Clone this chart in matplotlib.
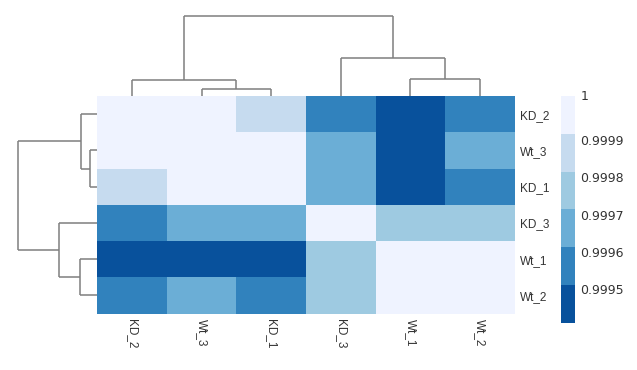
import matplotlib.pyplot as plt
import numpy as np
from matplotlib.colors import BoundaryNorm, ListedColormap

plt.rcParams["font.family"] = ["Liberation Sans", "DejaVu Sans"]

# samples, in clustered order (rows and columns use the same order)
samples = ["KD_2", "Wt_3", "KD_1", "KD_3", "Wt_1", "Wt_2"]

# correlation values (binned colours)
corr = np.array([
    [1.00000, 0.99992, 0.99986, 0.99957, 0.99943, 0.99958],
    [0.99992, 1.00000, 0.99991, 0.99967, 0.99946, 0.99966],
    [0.99986, 0.99991, 1.00000, 0.99965, 0.99944, 0.99959],
    [0.99957, 0.99967, 0.99965, 1.00000, 0.99975, 0.99976],
    [0.99943, 0.99946, 0.99944, 0.99975, 1.00000, 0.99993],
    [0.99958, 0.99966, 0.99959, 0.99976, 0.99993, 1.00000],
])

# linkage: (left node, right node, height); leaves 0..5, new nodes 6..10
linkage = [
    (1, 2, 7.0),
    (4, 5, 17.5),
    (0, 6, 16.0),
    (3, 7, 38.3),
    (8, 9, 80.0),
]

legend_breaks = [0.9995, 0.9996, 0.9997, 0.9998, 0.9999, 1.0]
legend_labels = ["0.9995", "0.9996", "0.9997", "0.9998", "0.9999", "1"]
colors = ["#08519c", "#3182bd", "#6baed6", "#9ecae1", "#c6dbef", "#eff3ff"]

W, H = 637, 370
fig = plt.figure(figsize=(W / 100, H / 100), dpi=100)


def px_axes(x0, y0, x1, y1):
    return fig.add_axes([x0 / W, 1 - y1 / H, (x1 - x0) / W, (y1 - y0) / H])


hm_left, hm_right, hm_top, hm_bottom = 97, 515, 96, 313.5
n = len(samples)
text_color = "#333333"

# heatmap
ax = px_axes(hm_left, hm_top, hm_right, hm_bottom)
cmap = ListedColormap(colors)
bounds = [0.999] + legend_breaks[:-1] + [1.001]
norm = BoundaryNorm(bounds, cmap.N)
ax.pcolormesh(np.arange(n + 1), np.arange(n + 1), corr, cmap=cmap, norm=norm)
ax.set_xlim(0, n)
ax.set_ylim(n, 0)
for s in ax.spines.values():
    s.set_visible(False)
ax.tick_params(length=0)
ax.set_xticks(np.arange(n) + 0.5)
ax.set_xticklabels(samples, rotation=-90, fontsize=8.5, color=text_color, va="top")
ax.set_yticks(np.arange(n) + 0.5)
ax.set_yticklabels(samples, fontsize=8.5, color=text_color)
ax.yaxis.tick_right()
ax.tick_params(axis="x", pad=4)
ax.tick_params(axis="y", pad=3.5)


def dendro_segments():
    pos = {i: i + 0.5 for i in range(n)}
    hgt = {i: 0.0 for i in range(n)}
    segs = []
    for k, (a, b, h) in enumerate(linkage):
        node = n + k
        segs.append(((pos[a], hgt[a]), (pos[a], h)))
        segs.append(((pos[a], h), (pos[b], h)))
        segs.append(((pos[b], h), (pos[b], hgt[b])))
        pos[node] = (pos[a] + pos[b]) / 2
        hgt[node] = h
    return segs


top_h = max(h for _, _, h in linkage)
line_kw = dict(color="#7f7f7f", linewidth=1.1, clip_on=False, solid_capstyle="butt")

# column dendrogram
axc = px_axes(hm_left, 16, hm_right, hm_top)
for (x0, y0), (x1, y1) in dendro_segments():
    axc.plot([x0, x1], [y0, y1], **line_kw)
axc.set_xlim(0, n)
axc.set_ylim(0, top_h)
axc.axis("off")

# row dendrogram
axr = px_axes(17.5, hm_top, hm_left, hm_bottom)
for (x0, y0), (x1, y1) in dendro_segments():
    axr.plot([y0, y1], [x0, x1], **line_kw)
axr.set_ylim(n, 0)
axr.set_xlim(top_h, 0)
axr.axis("off")

# legend bar: equal-height colour blocks, labels placed by value
axl = px_axes(560.7, 96, 575, 322.7)
lo, hi = 0.99941, 1.000018
edges = np.linspace(lo, hi, len(colors) + 1)
for i, c in enumerate(colors):
    axl.fill_between([0, 1], edges[i], edges[i + 1], color=c, linewidth=0)
axl.set_xlim(0, 1)
axl.set_ylim(lo, hi)
axl.set_xticks([])
axl.yaxis.tick_right()
axl.set_yticks(legend_breaks)
axl.set_yticklabels(legend_labels, fontsize=9, color=text_color,
                    family=["DejaVu Sans"])
axl.tick_params(axis="y", length=0, pad=4)
axl.get_yticklabels()[-1].set_va("bottom")
for s in axl.spines.values():
    s.set_visible(False)

fig.savefig("out.png", dpi=100)
